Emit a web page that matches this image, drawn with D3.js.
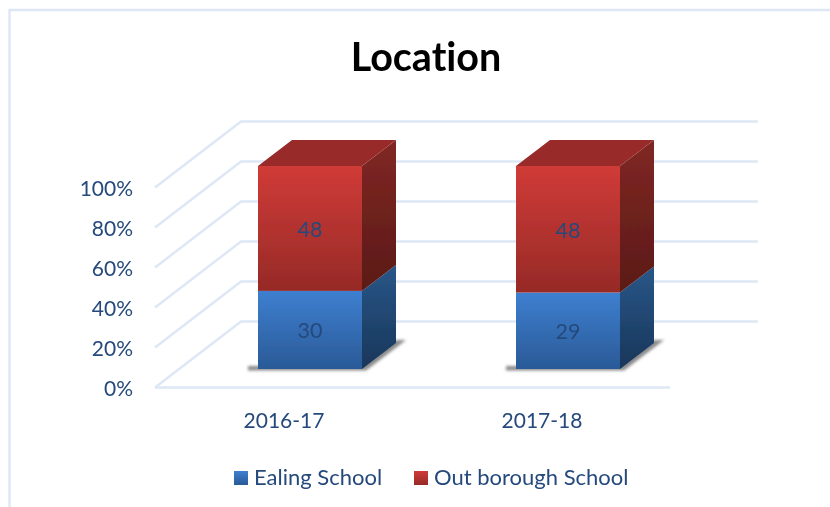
<!DOCTYPE html>
<html><head><meta charset="utf-8">
<script src="https://cdn.jsdelivr.net/npm/d3@7"></script>
<style>html,body{margin:0;padding:0;background:#fff}svg{display:block}text{font-family:Lato,"Open Sans",sans-serif;font-variant-ligatures:none}</style>
</head><body><svg id="c" width="830" height="507"></svg>
<script>
const title = "Location";
const categories = ["2016-17", "2017-18"];
const seriesNames = ["Ealing School", "Out borough School"];
const ealing = [30, 29];
const outBorough = [48, 48];
const yTicks = [0, 20, 40, 60, 80, 100];

const svg = d3.select("#c");
const textCol = "#254a7c", gridCol = "#dde7f5";
const defs = svg.append("defs");
function grad(id, a, b){
  const g = defs.append("linearGradient").attr("id", id).attr("x1",0).attr("y1",0).attr("x2",0).attr("y2",1);
  g.append("stop").attr("offset",0).attr("stop-color",a);
  g.append("stop").attr("offset",1).attr("stop-color",b);
}
grad("bf","#3e7fd0","#2a5a97"); grad("bs","#285788","#19365a");
grad("rf","#d03b37","#962a27"); grad("rs","#802723","#5b1a17");
defs.append("filter").attr("id","soft").append("feGaussianBlur").attr("stdDeviation",0.5);
const sh = defs.append("filter").attr("id","shadow").attr("x","-20%").attr("y","-20%").attr("width","140%").attr("height","140%");
sh.append("feGaussianBlur").attr("stdDeviation",1.8);

const root = svg.append("g").attr("filter","url(#soft)");
// chart frame
root.append("path").attr("d","M9.5,507V10H830").attr("fill","none").attr("stroke",gridCol).attr("stroke-width",2.4);

// scales
const yGrid = d3.scaleLinear().domain([0,100]).range([387.5,187.5]);
const yBar = d3.scaleLinear().domain([0,100]).range([369,166]);
const xBand = d3.scaleBand().domain(categories).range([181,697]).paddingInner(0).paddingOuter(0);
const barW = 104, depth = {dx:34, dy:-26}, wall = {dx:86, dy:-66};
const barX = c => xBand(c) + xBand.bandwidth()/2 - barW/2;
const labelX = c => xBand(c) + xBand.bandwidth()/2 - 26;

// grid
const g = root.append("g").attr("fill","none").attr("stroke",gridCol).attr("stroke-width",2.4);
yTicks.forEach(t=>{
  const y = yGrid(t);
  g.append("path").attr("d",`M155,${y}L${155+wall.dx},${y+wall.dy}H758`);
});
g.append("path").attr("d","M155,387.5H670");

// tick labels
root.append("g").selectAll("text").data(yTicks).join("text")
  .attr("x",133).attr("y",t=>yGrid(t)+8.5).attr("text-anchor","end")
  .attr("font-size",21).attr("fill",textCol).text(t=>t+"%");
root.append("g").selectAll("text").data(categories).join("text")
  .attr("x",labelX).attr("y",428).attr("text-anchor","middle")
  .attr("font-size",21).attr("fill",textCol).text(d=>d);

// bars
categories.forEach((c,i)=>{
  const total = ealing[i]+outBorough[i];
  const x = barX(c), x1 = x+barW;
  const y0 = yBar(0), ySplit = yBar(ealing[i]/total*100), yTop = yBar(100);
  root.append("path").attr("filter","url(#shadow)").attr("fill","#8a8a8a")
    .attr("d",`M${x-10},${y0-3}H${x1}L${x1+depth.dx},${y0+depth.dy-3}H${x1+depth.dx+10}L${x1+4},${y0+1.5}H${x-10}Z`);
  root.append("rect").attr("x",x).attr("y",ySplit).attr("width",barW).attr("height",y0-ySplit).attr("fill","url(#bf)");
  root.append("rect").attr("x",x).attr("y",yTop).attr("width",barW).attr("height",ySplit-yTop).attr("fill","url(#rf)");
  root.append("path").attr("fill","url(#bs)").attr("d",`M${x1},${y0}V${ySplit}L${x1+depth.dx},${ySplit+depth.dy}V${y0+depth.dy}Z`);
  root.append("path").attr("fill","url(#rs)").attr("d",`M${x1},${ySplit}V${yTop}L${x1+depth.dx},${yTop+depth.dy}V${ySplit+depth.dy}Z`);
  root.append("path").attr("fill","#982c29").attr("d",`M${x},${yTop}H${x1}L${x1+depth.dx},${yTop+depth.dy}H${x+depth.dx}Z`);
  const mid = x+barW/2;
  root.append("text").attr("x",mid).attr("y",(y0+ySplit)/2+8.5).attr("text-anchor","middle").attr("font-size",21.5).attr("fill",textCol).text(ealing[i]);
  root.append("text").attr("x",mid).attr("y",(ySplit+yTop)/2+9).attr("text-anchor","middle").attr("font-size",21.5).attr("fill",textCol).text(outBorough[i]);
});

// legend
const legX = [234, 414], legF = ["url(#bf)","url(#rf)"];
seriesNames.forEach((n,i)=>{
  root.append("rect").attr("x",legX[i]).attr("y",471).attr("width",14).attr("height",14).attr("fill",legF[i]);
  root.append("text").attr("x",legX[i]+20).attr("y",485).attr("font-size",22).attr("fill",textCol).text(n);
});

// title
root.append("text").attr("x",426).attr("y",71).attr("text-anchor","middle").attr("font-size",39.5).attr("font-weight",700).attr("fill","#000").text(title);
</script></body></html>
